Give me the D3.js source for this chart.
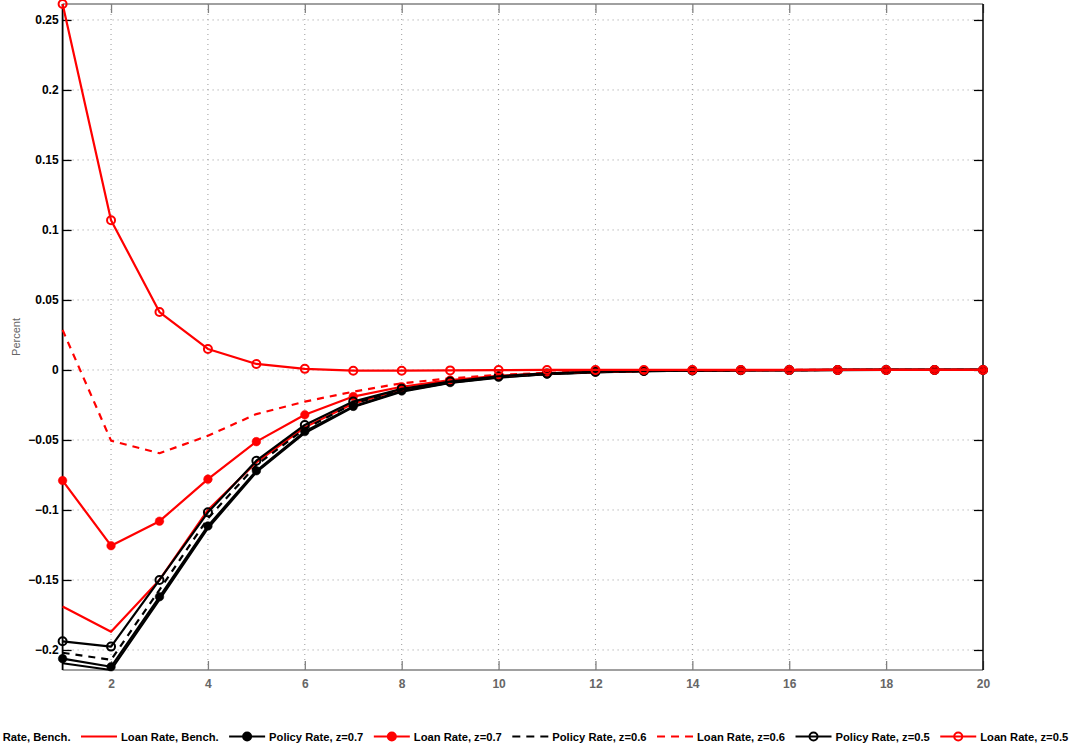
<!DOCTYPE html>
<html>
<head>
<meta charset="utf-8">
<script src="https://cdn.jsdelivr.net/npm/d3@7"></script>
<style>
  body { margin: 0; background: #fff; }
  svg { display: block; }
  text { font-family: "Liberation Sans", Arial, sans-serif; }
</style>
</head>
<body>
<svg id="chart" width="1076" height="748"></svg>
<script>
// quarters after the shock
const periods = [1, 2, 3, 4, 5, 6, 7, 8, 9, 10, 11, 12, 13, 14, 15, 16, 17, 18, 19, 20];

const policyBench = [-0.2095, -0.2143, -0.164, -0.113, -0.073, -0.045, -0.0265, -0.0155, -0.0092, -0.0055, -0.003, -0.0017, -0.0009, -0.0005, -0.0003, -0.0001, -0.0001, 0, 0, 0];
const loanBench   = [-0.169, -0.187, -0.150, -0.100, -0.066, -0.041, -0.024, -0.0138, -0.008, -0.0045, -0.0025, -0.0013, -0.0007, -0.0003, -0.0002, -0.0001, 0, 0, 0, 0];
const policy07    = [-0.2062, -0.212, -0.162, -0.1114, -0.072, -0.044, -0.026, -0.015, -0.009, -0.0052, -0.003, -0.0016, -0.0009, -0.0005, -0.0002, -0.0001, 0, 0, 0, 0];
const loan07      = [-0.079, -0.1255, -0.108, -0.078, -0.0512, -0.032, -0.019, -0.012, -0.0072, -0.0042, -0.0024, -0.0013, -0.0007, -0.0004, -0.0002, -0.0001, 0, 0, 0, 0];
const policy06    = [-0.202, -0.207, -0.157, -0.106, -0.068, -0.042, -0.024, -0.0142, -0.0085, -0.005, -0.0028, -0.0015, -0.0008, -0.0004, -0.0002, -0.0001, 0, 0, 0, 0];
const loan06      = [0.0286, -0.0505, -0.0595, -0.047, -0.0315, -0.0226, -0.0155, -0.0095, -0.006, -0.0035, -0.002, -0.001, -0.0005, -0.0003, -0.0001, 0, 0, 0, 0, 0];
const policy05    = [-0.1938, -0.1976, -0.150, -0.1017, -0.0648, -0.0393, -0.0226, -0.0135, -0.0083, -0.0045, -0.0025, -0.0013, -0.0007, -0.0004, -0.0002, -0.0001, 0, 0, 0, 0];
const loan05      = [0.2614, 0.107, 0.0414, 0.015, 0.0043, 0.0008, -0.0005, -0.0005, -0.0003, -0.0001, 0, 0, 0, 0, 0, 0, 0, 0, 0, 0];

const xTicks = [2, 4, 6, 8, 10, 12, 14, 16, 18, 20];
const yTicks = [-0.2, -0.15, -0.1, -0.05, 0, 0.05, 0.1, 0.15, 0.2, 0.25];
const yTickLabels = ["\u22120.2", "\u22120.15", "\u22120.1", "\u22120.05", "0", "0.05", "0.1", "0.15", "0.2", "0.25"];

const seriesNames = ["Policy Rate, Bench.", "Loan Rate, Bench.", "Policy Rate, z=0.7", "Loan Rate, z=0.7",
                     "Policy Rate, z=0.6", "Loan Rate, z=0.6", "Policy Rate, z=0.5", "Loan Rate, z=0.5"];
const seriesValues = [policyBench, loanBench, policy07, loan07, policy06, loan06, policy05, loan05];

// styles, in the same order as the series
const styles = [
  { color: "#000", dash: null,  marker: null },
  { color: "#f00", dash: null,  marker: null },
  { color: "#000", dash: null,  marker: "dot" },
  { color: "#f00", dash: null,  marker: "dot" },
  { color: "#000", dash: "7,6", marker: null },
  { color: "#f00", dash: "7,6", marker: null },
  { color: "#000", dash: null,  marker: "circle" },
  { color: "#f00", dash: null,  marker: "circle" }
];

const svg = d3.select("#chart");
const pLeft = 62.6, pRight = 983, pTop = 4, pBottom = 670;

const allVals = seriesValues.flat();
const x = d3.scaleLinear().domain([1, 20]).range([pLeft, pRight]);
const y = d3.scaleLinear().domain(d3.extent(allVals)).range([pBottom, pTop]);

// grid
const grid = svg.append("g");
grid.selectAll("line.gx").data(xTicks.filter(d => d < 20)).enter().append("line")
  .attr("x1", d => x(d)).attr("x2", d => x(d)).attr("y1", pTop).attr("y2", pBottom)
  .attr("stroke", "#999").attr("stroke-dasharray", "1,4");
grid.selectAll("line.gy").data(yTicks).enter().append("line")
  .attr("x1", pLeft).attr("x2", pRight).attr("y1", d => y(d)).attr("y2", d => y(d))
  .attr("stroke", "#999").attr("stroke-dasharray", "1,4");

// frame
svg.append("line").attr("x1", pLeft).attr("x2", pRight).attr("y1", pTop).attr("y2", pTop)
  .attr("stroke", "#808080").attr("stroke-width", 1.3);
svg.append("line").attr("x1", pLeft).attr("x2", pRight).attr("y1", pBottom).attr("y2", pBottom)
  .attr("stroke", "#808080").attr("stroke-width", 1.3);

// x axis (gray), ticks inward
svg.append("g").attr("transform", `translate(0,${pBottom})`)
  .call(d3.axisBottom(x).tickValues(xTicks).tickSize(-9).tickPadding(9).tickFormat(d3.format("d")))
  .call(g => g.select(".domain").remove())
  .call(g => g.selectAll("line").attr("stroke", "#808080").attr("stroke-width", 1.3))
  .call(g => g.selectAll("text").attr("fill", "#666").attr("font-size", 12).attr("font-weight", "bold")
    .attr("font-family", "'Liberation Sans', Arial, sans-serif"));
svg.append("g").attr("transform", `translate(0,${pTop})`)
  .call(d3.axisTop(x).tickValues(xTicks).tickSize(-9).tickFormat(""))
  .call(g => g.select(".domain").remove())
  .call(g => g.selectAll("line").attr("stroke", "#808080").attr("stroke-width", 1.3));

// y axis (black), ticks inward
svg.append("g").attr("transform", `translate(${pLeft},0)`)
  .call(d3.axisLeft(y).tickValues(yTicks).tickSize(-9).tickPadding(4)
    .tickFormat((d, i) => yTickLabels[i]))
  .call(g => g.select(".domain").attr("stroke", "#000").attr("stroke-width", 1.8).attr("d", `M0,${pTop}V${pBottom}`))
  .call(g => g.selectAll("line").attr("stroke", "#000").attr("stroke-width", 1.3))
  .call(g => g.selectAll("text").attr("fill", "#000").attr("font-size", 12).attr("font-weight", "bold")
    .attr("font-family", "'Liberation Sans', Arial, sans-serif"));
svg.append("g").attr("transform", `translate(${pRight},0)`)
  .call(d3.axisRight(y).tickValues(yTicks).tickSize(-9).tickFormat(""))
  .call(g => g.select(".domain").attr("stroke", "#000").attr("stroke-width", 1.5).attr("d", `M0,${pTop}V${pBottom}`))
  .call(g => g.selectAll("line").attr("stroke", "#000").attr("stroke-width", 1.3));

// y label
svg.append("text").attr("transform", `translate(20,${(pTop + pBottom) / 2}) rotate(-90)`)
  .attr("text-anchor", "middle").attr("font-size", 11).attr("fill", "#666").text("Percent");

// series
const line = d3.line().x((d, i) => x(periods[i])).y(d => y(d));
seriesValues.forEach((vals, k) => {
  const s = styles[k];
  const g = svg.append("g");
  g.append("path").attr("d", line(vals)).attr("fill", "none")
    .attr("stroke", s.color).attr("stroke-width", 2.2)
    .attr("stroke-dasharray", s.dash).attr("stroke-linejoin", "round");
  if (s.marker) {
    g.selectAll("circle").data(vals).enter().append("circle")
      .attr("cx", (d, i) => x(periods[i])).attr("cy", d => y(d))
      .attr("r", s.marker === "dot" ? 4.3 : 4)
      .attr("fill", s.marker === "dot" ? s.color : "none")
      .attr("stroke", s.color).attr("stroke-width", s.marker === "dot" ? 0.5 : 2);
  }
});

// legend along the bottom, first item runs off the left edge (as in the source figure)
const legY = 736.5;
const leg = svg.append("g");
const items = [];
seriesNames.forEach((name, k) => {
  const it = leg.append("g");
  const s = styles[k];
  it.append("line").attr("x1", 0).attr("x2", 36).attr("y1", 0).attr("y2", 0)
    .attr("stroke", s.color).attr("stroke-width", 2.2).attr("stroke-dasharray", s.dash ? "8,6" : null);
  if (s.marker) {
    it.append("circle").attr("cx", 18).attr("cy", 0).attr("r", 4)
      .attr("fill", s.marker === "dot" ? s.color : "none")
      .attr("stroke", s.color).attr("stroke-width", 2);
  }
  const t = it.append("text").attr("x", 40).attr("y", 4).attr("font-size", 11.2)
    .attr("font-weight", "bold").attr("fill", "#000").text(name);
  items.push({ g: it, w: 40 + t.node().getComputedTextLength() });
});
let cx = 81;
for (let k = 1; k < items.length; k++) {
  items[k].g.attr("transform", `translate(${cx},${legY})`);
  cx += items[k].w + 10.5;
}
items[0].g.attr("transform", `translate(${81 - 10.5 - items[0].w},${legY})`);
</script>
</body>
</html>
